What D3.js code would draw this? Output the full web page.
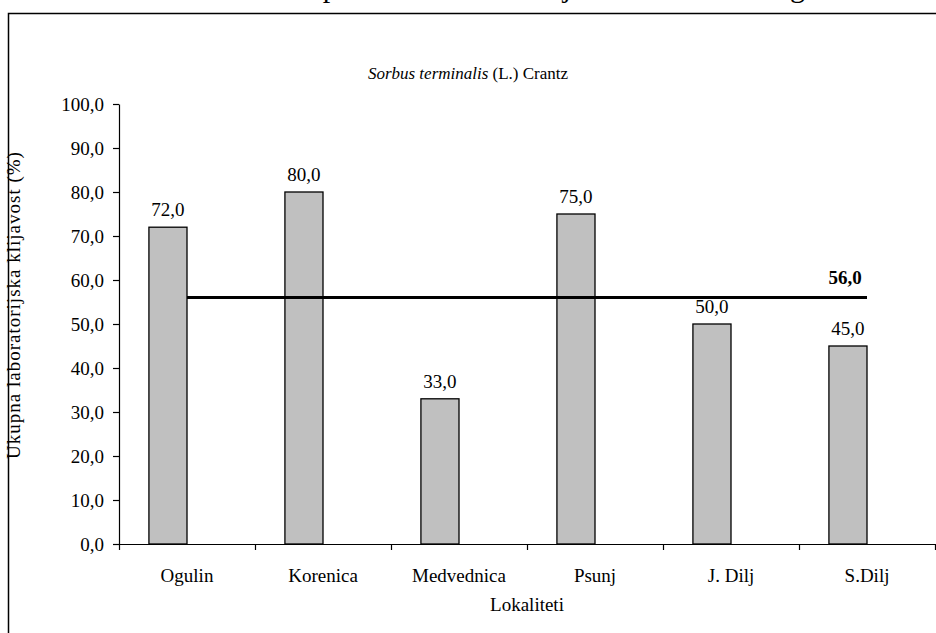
<!DOCTYPE html>
<html>
<head>
<meta charset="utf-8">
<script src="https://cdn.jsdelivr.net/npm/d3@7"></script>
<style>
  body { margin: 0; background: #fff; }
  svg { display: block; }
  svg text { font-family: "Liberation Serif", "Times New Roman", Times, serif; fill: black; }
</style>
</head>
<body>
<div id="chart"></div>
<script>
// data
const lokaliteti = ["Ogulin", "Korenica", "Medvednica", "Psunj", "J. Dilj", "S.Dilj"];
const klijavost = [72.0, 80.0, 33.0, 75.0, 50.0, 45.0];
const prosjek = 56.0;
const yTicks = [0, 10, 20, 30, 40, 50, 60, 70, 80, 90, 100];

const width = 936, height = 633;
const margin = {top: 104, right: 1, bottom: 89, left: 119};

const svg = d3.select("#chart")
    .append("svg")
    .attr("width", width)
    .attr("height", height);

// caption line cropped at the top edge, as in the source picture (only descenders show)
const cap = svg.append("text")
    .attr("y", -3)
    .attr("font-size", 30);
cap.append("tspan").attr("x", 271).text("Ukupna");
cap.append("tspan").attr("x", 531).text("klijavost");
cap.append("tspan").attr("x", 790).text("godine");

// outer frame
svg.append("rect")
    .attr("x", 8.5)
    .attr("y", 13.5)
    .attr("width", 940)
    .attr("height", 640)
    .attr("fill", "none")
    .attr("stroke", "black")
    .attr("stroke-width", 1.5);

// title
const title = svg.append("text")
    .attr("x", 468)
    .attr("y", 79)
    .attr("text-anchor", "middle")
    .attr("font-size", 17);
title.append("tspan").attr("font-style", "italic").text("Sorbus terminalis ");
title.append("tspan").text(" (L.) Crantz");

//scales
const xScale = d3.scaleBand()
    .domain(lokaliteti)
    .range([margin.left, width - margin.right]);
const yScale = d3.scaleLinear()
    .domain([0, 100])
    .range([height - margin.bottom, margin.top]);
const bw = xScale.bandwidth();
const fmt = v => d3.format(".1f")(v).replace(".", ",");

//y axis
const yAxis = d3.axisLeft(yScale)
    .tickValues(yTicks)
    .tickFormat(fmt)
    .tickSize(6)
    .tickSizeOuter(0)
    .tickPadding(9);
const yAxisG = svg.append("g")
    .attr("transform", `translate(${margin.left},0)`)
    .call(yAxis);
yAxisG.selectAll("text").attr("font-size", 19);
yAxisG.selectAll("line, path").attr("stroke", "black").attr("stroke-width", 1.2);

svg.append("text")
    .attr("transform", "translate(20,305) rotate(-90)")
    .attr("text-anchor", "middle")
    .attr("font-size", 19)
    .attr("letter-spacing", 1)
    .text("Ukupna laboratorijska klijavost (%)");

//x axis: ticks between categories, labels centred in each band
const xEdges = d3.scaleLinear().domain([0, lokaliteti.length]).range(xScale.range());
const xAxisTicks = d3.axisBottom(xEdges)
    .ticks(lokaliteti.length)
    .tickFormat("")
    .tickSize(6)
    .tickSizeOuter(0);
const xTickG = svg.append("g")
    .attr("transform", `translate(0,${yScale(0)})`)
    .call(xAxisTicks);
xTickG.selectAll("line, path").attr("stroke", "black").attr("stroke-width", 1.2);

const xAxisLabels = d3.axisBottom(xScale).tickSize(0).tickPadding(25);
const xLabG = svg.append("g")
    .attr("transform", `translate(0,${yScale(0)})`)
    .call(xAxisLabels);
xLabG.select(".domain").remove();
xLabG.selectAll("text").attr("font-size", 19);

svg.append("text")
    .attr("x", (xScale.range()[0] + xScale.range()[1]) / 2)
    .attr("y", 611)
    .attr("text-anchor", "middle")
    .attr("font-size", 19)
    .text("Lokaliteti");

//bars
const data = lokaliteti.map((l, i) => ({lok: l, val: klijavost[i]}));
svg.append("g")
    .selectAll("rect")
    .data(data)
    .enter()
    .append("rect")
    .attr("x", d => xScale(d.lok) + bw * 0.22)
    .attr("y", d => yScale(d.val))
    .attr("width", bw * 0.28)
    .attr("height", d => yScale(0) - yScale(d.val))
    .attr("fill", "#c0c0c0")
    .attr("stroke", "black")
    .attr("stroke-width", 1.3);

svg.append("g")
    .selectAll("text")
    .data(data)
    .enter()
    .append("text")
    .attr("x", d => xScale(d.lok) + bw * 0.36)
    .attr("y", d => yScale(d.val) - 11)
    .attr("text-anchor", "middle")
    .attr("font-size", 19)
    .text(d => fmt(d.val));

//mean line
const x0 = xScale(lokaliteti[0]) + bw / 2;
const x1 = xScale(lokaliteti[lokaliteti.length - 1]) + bw / 2;
svg.append("line")
    .attr("x1", x0)
    .attr("x2", x1)
    .attr("y1", yScale(prosjek))
    .attr("y2", yScale(prosjek))
    .attr("stroke", "black")
    .attr("stroke-width", 3);
svg.append("text")
    .attr("x", x1 - 22)
    .attr("y", yScale(prosjek) - 14)
    .attr("text-anchor", "middle")
    .attr("font-size", 19)
    .attr("font-weight", "bold")
    .text(fmt(prosjek));
</script>
</body>
</html>
